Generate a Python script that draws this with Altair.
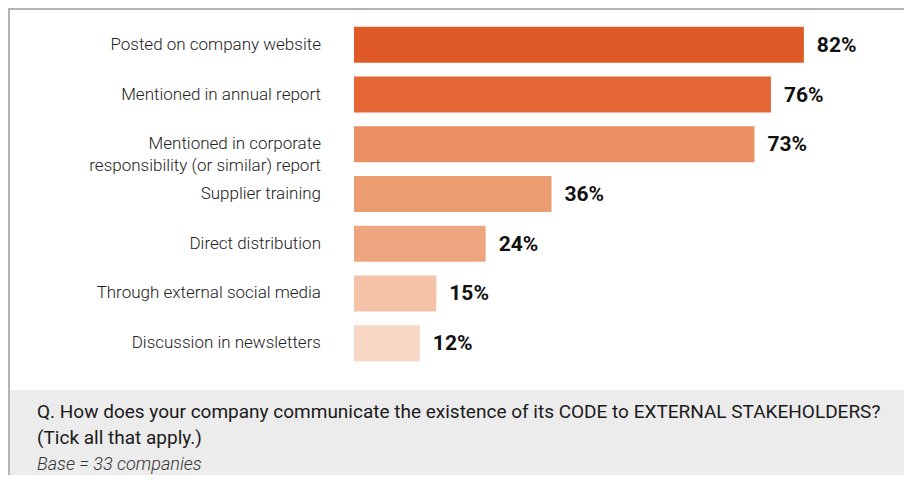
import altair as alt
import pandas as pd

categories = [
    "Posted on company website",
    "Mentioned in annual report",
    "Mentioned in corporate\nresponsibility (or similar) report",
    "Supplier training",
    "Direct distribution",
    "Through external social media",
    "Discussion in newsletters",
]
values = [82, 76, 73, 36, 24, 15, 12]
colors = ["#E05A28", "#E46634", "#EA8F62", "#EC9C71", "#EFA680", "#F4C2A6", "#F7D6C4"]
question = "Q. How does your company communicate the existence of its CODE to EXTERNAL STAKEHOLDERS?"
question2 = "(Tick all that apply.)"
base_note = "Base = 33 companies"

df = pd.DataFrame({
    "cat": categories,
    "val": values,
    "color": colors,
    "label": [f"{v}%" for v in values],
})

W, H = 896, 467
xs = alt.Scale(domain=[0, 100], range=[346, 346 + 548.6])
ys = alt.Scale(domain=categories, range=[12, 360], paddingInner=0.276, paddingOuter=0.138)

base = alt.Chart(df)

bars = base.mark_bar().encode(
    x=alt.X("val:Q", scale=xs, axis=None),
    y=alt.Y("cat:N", scale=ys, axis=None, sort=categories),
    color=alt.Color("color:N", scale=None, legend=None),
)

vals = base.mark_text(
    align="left", baseline="middle", dx=13, dy=1,
    font="Roboto", fontSize=21, fontWeight="bold", color="#111111",
).encode(
    x=alt.X("val:Q", scale=xs),
    y=alt.Y("cat:N", scale=ys, sort=categories),
    text="label:N",
)

cats = base.mark_text(
    align="right", baseline="middle", lineBreak="\n", lineHeight=22,
    font="Roboto", fontSize=17, fontWeight=300, color="#222222",
).encode(
    x=alt.value(313),
    y=alt.Y("cat:N", scale=ys, sort=categories),
    text="cat:N",
)

deco = pd.DataFrame({"k": [0]})
footer = alt.Chart(deco).mark_rect(color="#ECECEC").encode(
    x=alt.value(0), x2=alt.value(W), y=alt.value(382), y2=alt.value(H)
)
frame_top = alt.Chart(deco).mark_rule(color="#B3B3B3", strokeWidth=2).encode(
    x=alt.value(0), x2=alt.value(W), y=alt.value(1)
)
frame_left = alt.Chart(deco).mark_rule(color="#B3B3B3", strokeWidth=2).encode(
    x=alt.value(1), y=alt.value(0), y2=alt.value(H)
)

q1 = alt.Chart(deco).mark_text(
    align="left", baseline="alphabetic", font="Roboto", fontSize=19, fontWeight=400, color="#1A1A1A"
).encode(x=alt.value(29), y=alt.value(410), text=alt.value(question))
q2 = alt.Chart(deco).mark_text(
    align="left", baseline="alphabetic", font="Roboto", fontSize=19, fontWeight=400, color="#1A1A1A"
).encode(x=alt.value(29), y=alt.value(436), text=alt.value(question2))
q3 = alt.Chart(deco).mark_text(
    align="left", baseline="alphabetic", font="Roboto", fontSize=18, fontWeight=300,
    fontStyle="italic", color="#333333"
).encode(x=alt.value(29), y=alt.value(462), text=alt.value(base_note))

chart = alt.layer(footer, frame_top, frame_left, bars, vals, cats, q1, q2, q3).properties(
    width=W, height=H, padding=0, autosize=alt.AutoSizeParams(type="none"),
    background="white",
).configure_view(stroke=None)

chart.save("out.html", embed_options={"renderer": "svg", "actions": False})
